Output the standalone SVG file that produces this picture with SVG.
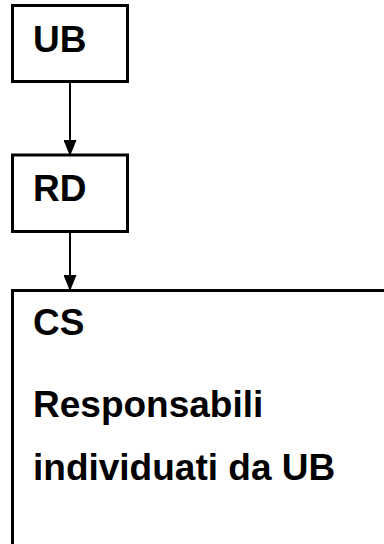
<svg xmlns="http://www.w3.org/2000/svg" width="384" height="544" viewBox="0 0 384 544">
<style>
.box{fill:#fff;stroke:#000;stroke-width:3}
.t{font-family:"Liberation Sans",Arial,sans-serif;font-weight:bold;font-size:37px;fill:#000}
.c{stroke:#000;stroke-width:2;fill:none}
</style>
<defs>
<marker id="ah" viewBox="0 0 16 13" refX="16" refY="6.5" markerWidth="16" markerHeight="13" markerUnits="userSpaceOnUse" orient="auto">
<path d="M0,0 L16,6.5 L0,13 Z" fill="#000"/>
</marker>
</defs>
<g id="connectors">
<line class="c" x1="70" y1="83" x2="70" y2="156" marker-end="url(#ah)"/>
<line class="c" x1="70" y1="233" x2="70" y2="291" marker-end="url(#ah)"/>
</g>
<g id="UB">
<rect class="box" x="12.5" y="5.5" width="115" height="76"/>
<text class="t" x="33" y="51.5">UB</text>
</g>
<g id="RD">
<rect class="box" x="12.5" y="155" width="115" height="76.5"/>
<text class="t" x="33" y="201">RD</text>
</g>
<g id="CS">
<rect class="box" x="12.5" y="290.5" width="390" height="280"/>
<text class="t" x="33" y="335">CS</text>
<text class="t" x="33" y="417">Responsabili</text>
<text class="t" x="33" y="480">individuati da UB</text>
</g>
</svg>
